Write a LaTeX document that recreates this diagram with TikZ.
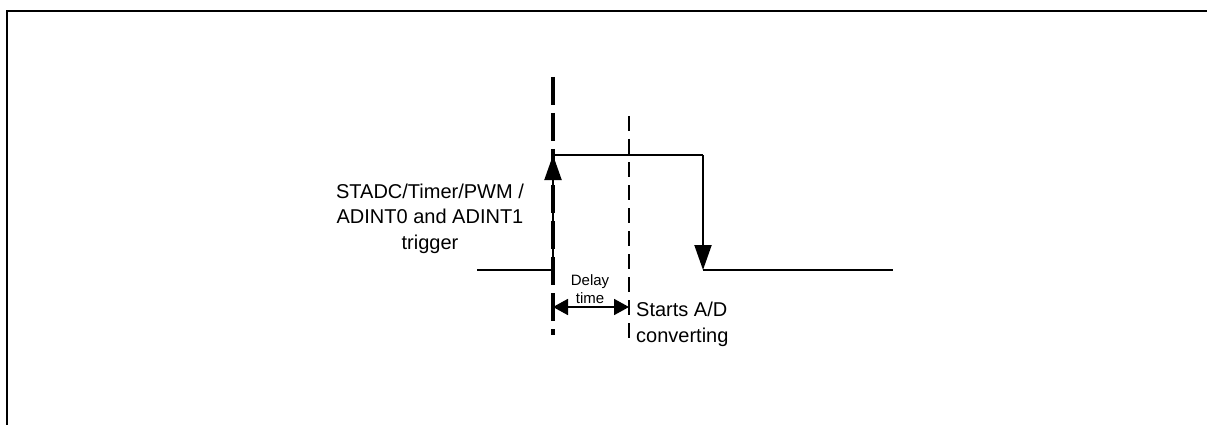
\documentclass[tikz,border=0pt]{standalone}
\usepackage{fontspec}
\setmainfont{Liberation Sans}
\usetikzlibrary{arrows.meta}
\tikzset{
  frame/.style={line width=2.3pt},
  sig/.style={line width=2pt},
  sigarr/.style={sig, -{Triangle[length=25pt,width=17pt]}},
  trigline/.style={line width=3.2pt, dash pattern=on 28pt off 8pt},
  convline/.style={line width=1.8pt, dash pattern=on 15pt off 8pt},
  dimarr/.style={line width=1.8pt, {Triangle[length=15pt,width=16pt]}-{Triangle[length=15pt,width=16pt]}},
  lbl/.style={font=\fontsize{20}{25.5}\selectfont, inner sep=0pt, align=center},
  small/.style={font=\fontsize{15}{18}\selectfont, inner sep=0pt, align=center},
}

\begin{document}
\begin{tikzpicture}[x=1pt, y=-1pt]
  \useasboundingbox (0,0) rectangle (1207,425);
  \draw[frame] (7,425) -- (7,11) -- (1207,11);
  % signal corners
  \coordinate (lowL) at (477,270);
  \coordinate (rise) at (553,270);
  \coordinate (riseTop) at (553,155);
  \coordinate (fall) at (703,155);
  \coordinate (fallBot) at (703,270);
  \coordinate (lowR) at (893,270);
  % markers
  \coordinate (trigTop) at (553,77);
  \coordinate (trigBot) at (553,335);
  \coordinate (convTop) at (629,116);
  \coordinate (convBot) at (629,340);
  \coordinate (delayL) at (553,307);
  \coordinate (delayR) at (629,307);
  \draw[trigline] (trigTop) -- (trigBot);
  \draw[convline] (convTop) -- (convBot);
  \draw[sigarr] (lowL) -- (rise) -- (riseTop);
  \draw[sig] (riseTop) -- (fall);
  \draw[sigarr] (fall) -- (fallBot);
  \draw[sig] (fallBot) -- (lowR);
  \draw[dimarr] (delayL) -- (delayR);
  % labels (base = last line)
  \node[lbl, anchor=base] (trigLbl) at (430,249) {STADC/Timer/PWM /\\ADINT0 and ADINT1\\trigger};
  \node[small, anchor=base] (delayLbl) at (590,303) {Delay\\time};
  \node[lbl, anchor=base west, align=left] (convLbl) at (636,342) {Starts A/D\\converting};
\end{tikzpicture}
\end{document}
